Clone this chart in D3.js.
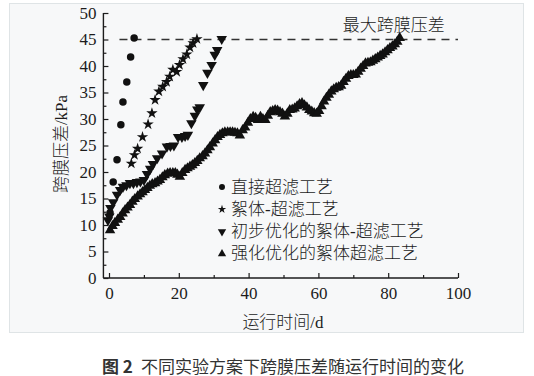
<!DOCTYPE html>
<html><head><meta charset="utf-8">
<script src="https://cdn.jsdelivr.net/npm/d3@7"></script>
<style>
html,body{margin:0;padding:0;background:#fff;}
svg{display:block;}
</style></head>
<body>
<script>
// ---- data ----
const seriesNames = ["直接超滤工艺", "絮体-超滤工艺", "初步优化的絮体-超滤工艺", "强化优化的絮体超滤工艺"];
const directX = [0.3, 1.2, 2.3, 3.4, 4.0, 5.1, 6.2, 7.2];
const directY = [12.3, 18.1, 22.3, 28.9, 33.2, 37.0, 41.7, 45.3];
const flocX = [6.4, 7.3, 8.2, 9.6, 11.2, 12.3, 13.2, 14.3, 15.4, 16.5, 17.4, 18.3, 19.4, 20.2, 21.2, 22.3, 23.2, 24.1, 25.2];
const flocY = [21.6, 23.2, 24.4, 26.6, 29.0, 31.1, 33.6, 35.2, 36.1, 37.0, 38.0, 39.3, 38.9, 40.2, 41.3, 42.2, 43.5, 44.3, 45.1];
const prelimX = [-0.3, 0.1, 0.4, 1.2, 2.3, 3.2, 4.0, 5.0, 6.0, 7.0, 8.0, 9.0, 10.0, 10.9, 11.8, 12.6, 13.8, 15.2, 16.6, 17.6, 18.6, 19.8, 20.9, 21.8, 22.6, 23.6, 24.6, 25.3, 26.0, 27.0, 28.2, 29.4, 30.3, 31.0, 32.3];
const prelimY = [10.9, 11.6, 13.2, 14.3, 15.7, 16.6, 17.2, 17.5, 17.9, 17.9, 18.1, 18.2, 18.5, 19.6, 20.6, 21.5, 22.6, 23.5, 24.8, 24.9, 25.0, 26.6, 26.6, 26.8, 27.0, 29.2, 30.6, 31.8, 32.2, 36.4, 38.7, 40.2, 42.1, 43.0, 45.1];
const enhX = [0.3, 1.0, 1.7, 2.5, 3.2, 3.9, 4.6, 5.3, 6.0, 6.7, 7.4, 8.2, 8.9, 9.6, 10.3, 11.0, 11.7, 12.4, 13.2, 13.9, 14.6, 15.3, 16.0, 16.8, 17.5, 18.3, 19.0, 19.6, 20.3, 21.0, 21.8, 22.5, 23.2, 23.9, 24.6, 25.3, 26.0, 26.8, 27.5, 28.2, 28.9, 29.7, 30.4, 31.1, 31.8, 32.5, 33.2, 34.0, 34.7, 35.4, 36.1, 36.8, 37.5, 38.3, 39.0, 39.8, 40.5, 41.3, 42.0, 42.7, 43.4, 44.1, 44.8, 45.5, 46.2, 46.9, 47.6, 48.3, 49.0, 49.7, 50.4, 51.1, 51.8, 52.5, 53.2, 53.9, 54.6, 55.3, 56.0, 56.7, 57.4, 58.1, 58.8, 59.5, 60.2, 60.9, 61.6, 62.3, 63.0, 63.7, 64.4, 65.1, 65.8, 66.5, 67.2, 67.9, 68.6, 69.3, 70.0, 70.7, 71.4, 72.1, 72.8, 73.5, 74.2, 74.9, 75.6, 76.3, 77.0, 77.7, 78.4, 79.1, 79.8, 80.5, 81.2, 81.9, 82.6, 83.3];
const enhY = [9.0, 9.8, 10.4, 11.0, 11.5, 12.2, 12.8, 13.3, 13.8, 14.4, 14.9, 15.4, 15.8, 16.2, 16.6, 17.0, 17.4, 17.7, 17.9, 18.2, 18.5, 19.0, 19.4, 19.7, 19.8, 19.8, 19.8, 19.5, 19.1, 19.8, 20.4, 20.7, 21.0, 21.3, 21.7, 22.1, 22.6, 23.0, 23.5, 24.1, 24.7, 25.4, 26.0, 26.6, 27.0, 27.3, 27.5, 27.5, 27.5, 27.5, 27.4, 27.3, 26.9, 27.9, 28.4, 29.3, 30.0, 30.4, 30.2, 29.8, 30.4, 30.0, 29.8, 30.6, 31.3, 31.5, 31.7, 31.6, 31.3, 31.0, 30.5, 31.0, 31.7, 31.8, 32.0, 32.4, 32.8, 33.0, 32.6, 32.2, 31.7, 31.4, 31.1, 31.0, 31.5, 32.4, 33.3, 34.0, 34.6, 35.2, 35.6, 35.9, 36.0, 36.3, 37.0, 37.6, 38.1, 38.3, 38.3, 38.4, 38.9, 39.5, 40.0, 40.5, 40.6, 40.7, 41.0, 41.3, 41.6, 41.9, 42.2, 42.6, 43.0, 43.4, 43.7, 44.1, 44.6, 45.3];
const maxTMP = 45;
const maxLabel = "最大跨膜压差";
const xTicks = [0, 20, 40, 60, 80, 100];
const xMinorTicks = [10, 30, 50, 70, 90];
const yTicks = [0, 5, 10, 15, 20, 25, 30, 35, 40, 45, 50];
const yMinorTicks = [2.5, 7.5, 12.5, 17.5, 22.5, 27.5, 32.5, 37.5, 42.5, 47.5];
const xTitle = "运行时间/d";
const yTitle = "跨膜压差/kPa";
const captionBold = "图 2";
const captionText = "不同实验方案下跨膜压差随运行时间的变化";

// ---- drawing ----
const W = 534, H = 376;
const svg = d3.select("body").append("svg").attr("width", W).attr("height", H);
const FONT = "'Liberation Serif','Noto Sans CJK SC',serif";
const ink = "#1c1c1c";

svg.append("rect").attr("x", 9.5).attr("y", 3.5).attr("width", 514).attr("height", 329)
  .attr("fill", "#f7f8f9").attr("stroke", "#dfe4e6").attr("stroke-width", 1);

const x = d3.scaleLinear().domain([0, 100]).range([109, 458]);
const y = d3.scaleLinear().domain([0, 50]).range([278, 13]);
const xLeft = x(-1.6);

// x axis
const gx = svg.append("g").attr("transform", `translate(0,${y(0)})`);
gx.call(d3.axisBottom(x).tickValues(xTicks).tickSize(-5).tickPadding(9).tickFormat(d3.format("d")));
svg.append("g").attr("transform", `translate(0,${y(0)})`)
  .call(d3.axisBottom(x).tickValues(xMinorTicks).tickSize(-3).tickFormat(""))
  .select(".domain").remove();
gx.select(".domain").attr("d", `M${xLeft},0H${x(100)}`);

// y axis
const gy = svg.append("g").attr("transform", `translate(${xLeft},0)`);
gy.call(d3.axisLeft(y).tickValues(yTicks).tickSize(-5).tickPadding(7).tickFormat(d3.format("d")));
svg.append("g").attr("transform", `translate(${xLeft},0)`)
  .call(d3.axisLeft(y).tickValues(yMinorTicks).tickSize(-3).tickFormat(""))
  .select(".domain").remove();
gy.select(".domain").attr("d", `M0,${y(50)}V${y(0)}`);

svg.selectAll(".domain").attr("stroke", ink).attr("stroke-width", 1.4);
svg.selectAll(".tick line").attr("stroke", ink).attr("stroke-width", 1.2);
svg.selectAll(".tick text").attr("font-family", FONT).attr("font-size", 17).attr("fill", ink);

// dashed max line
svg.append("line").attr("x1", x(3)).attr("x2", x(100)).attr("y1", y(maxTMP)).attr("y2", y(maxTMP))
  .attr("stroke", "#333").attr("stroke-width", 1.3).attr("stroke-dasharray", "8,6");
svg.append("text").attr("x", x(67)).attr("y", y(maxTMP) - 14).attr("font-family", FONT).attr("font-weight", 300)
  .attr("font-size", 17).attr("fill", ink).attr("dominant-baseline", "central").text(maxLabel);

// series
const sym = {
  circle: d3.symbol().type(d3.symbolCircle).size(44),
  star: d3.symbol().type(d3.symbolStar).size(40),
  tri: d3.symbol().type(d3.symbolTriangle).size(48)
};
const series = [
  {xs: directX, ys: directY, p: sym.circle(), rot: 0},
  {xs: flocX, ys: flocY, p: sym.star(), rot: 0},
  {xs: prelimX, ys: prelimY, p: sym.tri(), rot: 180},
  {xs: enhX, ys: enhY, p: sym.tri(), rot: 0}
];
series.forEach(s => {
  svg.append("g").selectAll("path").data(d3.zip(s.xs, s.ys)).join("path")
    .attr("d", s.p).attr("fill", "#111")
    .attr("transform", d => `translate(${x(d[0])},${y(d[1])}) rotate(${s.rot})`);
});

// legend
const lg = svg.append("g");
const legSyms = [
  d3.symbol().type(d3.symbolCircle).size(28)(),
  d3.symbol().type(d3.symbolStar).size(22)(),
  d3.symbol().type(d3.symbolTriangle).size(30)(),
  d3.symbol().type(d3.symbolTriangle).size(30)()
];
const legRot = [0, 0, 180, 0];
seriesNames.forEach((n, i) => {
  const yy = 187 + i * 22.3;
  lg.append("path").attr("d", legSyms[i]).attr("fill", "#111")
    .attr("transform", `translate(222,${yy}) rotate(${legRot[i]})`);
  lg.append("text").attr("x", 231).attr("y", yy).attr("dominant-baseline", "central").attr("font-weight", 300)
    .attr("font-family", FONT).attr("font-size", 17).attr("fill", ink).text(n);
});

// axis titles
svg.append("text").attr("x", 283).attr("y", 322).attr("text-anchor", "middle").attr("dominant-baseline", "central")
  .attr("font-family", FONT).attr("font-weight", 300).attr("font-size", 17).attr("fill", ink).text(xTitle);
svg.append("text").attr("transform", `translate(61,144) rotate(-90)`).attr("text-anchor", "middle")
  .attr("dominant-baseline", "central").attr("font-family", FONT).attr("font-weight", 300).attr("font-size", 17).attr("fill", ink).text(yTitle);

// caption
const cap = svg.append("text").attr("x", 102).attr("y", 365).attr("dominant-baseline", "central")
  .attr("font-family", "'Noto Sans CJK SC','Noto Sans',sans-serif").attr("font-size", 17).attr("fill", "#333");
cap.append("tspan").attr("font-weight", "bold").text(captionBold);
cap.append("tspan").attr("dx", 8).text(captionText);
</script>
</body></html>
